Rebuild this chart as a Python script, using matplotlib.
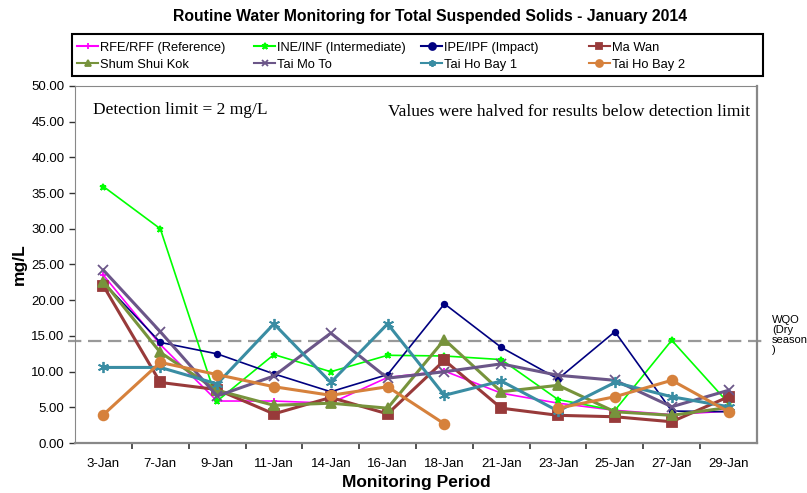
import matplotlib as mpl
mpl.use('Agg')
import matplotlib.pyplot as plt
from matplotlib.patches import Rectangle
import numpy as np

# sampling dates
dates = ['3-Jan', '7-Jan', '9-Jan', '11-Jan', '14-Jan', '16-Jan',
         '18-Jan', '21-Jan', '23-Jan', '25-Jan', '27-Jan', '29-Jan']

# total suspended solids, mg/L (nan = no sample)
rfe = [23.5, 13.8, 5.9, 5.9, 5.6, 9.2, 10.1, 7.0, 5.6, 4.6, 4.0, 4.5]
ine = [35.9, 30.0, 5.9, 12.4, 10.0, 12.3, 12.2, 11.7, 6.1, 4.6, 14.4, 5.6]
ipe = [22.5, 14.1, 12.5, 9.7, 7.2, 9.6, 19.5, 13.4, 9.0, 15.6, 4.5, 4.4]
ma_wan = [22.0, 8.5, 7.5, 4.1, 6.4, 4.1, 11.6, 4.9, 3.9, 3.7, 3.0, 6.5]
shum_shui_kok = [22.6, 12.7, 7.4, 5.3, 5.6, 4.9, 14.5, 7.2, 8.1, 4.4, 3.9, 5.0]
tai_mo_to = [24.2, 15.6, 6.6, 9.4, 15.4, 9.1, 10.0, 11.1, 9.5, 8.8, 5.1, 7.4]
tai_ho_bay_1 = [10.6, 10.6, 8.3, 16.7, 8.5, 16.7, 6.7, 8.7, 4.5, 8.5, 6.5, 5.1]
tai_ho_bay_2 = [4.0, 11.3, 9.6, 7.9, 6.7, 7.9, 2.7, np.nan, 4.9, 6.5, 8.8, 4.4]

wqo = 14.3

series = [
    ('RFE/RFF (Reference)', rfe, '#FF00FF', '+', 5, 1.2),
    ('INE/INF (Intermediate)', ine, '#00FF00', '*', 5, 1.2),
    ('IPE/IPF (Impact)', ipe, '#000080', 'o', 4, 1.2),
    ('Ma Wan', ma_wan, '#983A3A', 's', 7, 2.2),
    ('Shum Shui Kok', shum_shui_kok, '#77933C', '^', 7, 2.2),
    ('Tai Mo To', tai_mo_to, '#6B5688', 'x', 7, 2.2),
    ('Tai Ho Bay 1', tai_ho_bay_1, '#3A8DA3', (6, 2, 0), 8, 2.2),
    ('Tai Ho Bay 2', tai_ho_bay_2, '#D6813C', 'o', 7, 2.2),
]

plt.rcParams['font.family'] = ['Liberation Sans', 'DejaVu Sans']
fig = plt.figure(figsize=(8.07, 4.93), dpi=100)
ax = fig.add_axes([0.093, 0.101, 0.845, 0.725])

x = np.arange(len(dates))
handles = []
for name, vals, col, mk, ms, lw in series:
    h, = ax.plot(x, vals, color=col, marker=mk, markersize=ms, linewidth=lw,
                 markeredgewidth=1.3, label=name)
    handles.append(h)

# water quality objective line, runs slightly past the frame
ax.axhline(wqo, xmin=-0.01, xmax=1.01, color='#999999', linestyle=(0, (6, 3)),
           linewidth=1.6, clip_on=False, zorder=0)
ax.text(1.022, 17.9 / 50, 'WQO\n(Dry\nseason\n)', transform=ax.transAxes,
        fontsize=8, va='top', ha='left', linespacing=1.0)

ax.set_xlim(-0.5, len(dates) - 0.5)
ax.set_ylim(0, 50)
ax.set_yticks(np.arange(0, 50.1, 5))
ax.set_yticklabels(['%.2f' % v for v in np.arange(0, 50.1, 5)], fontsize=9.5)
ax.set_xticks(x)
ax.set_xticklabels(dates, fontsize=9.5)
ax.set_xticks(np.arange(0.5, len(dates) - 0.5, 1), minor=True)
ax.tick_params(axis='x', which='major', length=0, pad=11)
ax.tick_params(axis='x', which='minor', length=4, width=1.2, color='#333333')
ax.tick_params(axis='y', length=4, width=1, color='#333333')
for s in ax.spines.values():
    s.set_color('#888888')
ax.spines['right'].set_linewidth(1.6)
ax.spines['bottom'].set_linewidth(1.6)

ax.set_ylabel('mg/L', fontsize=12.5, fontweight='bold', labelpad=3)
ax.set_xlabel('Monitoring Period', fontsize=12.5, fontweight='bold', labelpad=3)

ax.text(0.026, 0.955, 'Detection limit = 2 mg/L', transform=ax.transAxes,
        fontsize=12.5, family=['Liberation Serif', 'DejaVu Serif'], va='top')
ax.text(0.99, 0.95, 'Values were halved for results below detection limit',
        transform=ax.transAxes, fontsize=12.5, ha='right', va='top',
        family=['Liberation Serif', 'DejaVu Serif'])

fig.text(0.533, 0.967, 'Routine Water Monitoring for Total Suspended Solids - January 2014',
         ha='center', va='center', fontsize=11.3, fontweight='bold')

# legend box with four columns at the original's positions
fig.patches.append(Rectangle((0.089, 0.846), 0.857, 0.085, transform=fig.transFigure,
                             fill=False, edgecolor='black', linewidth=1.5))
col_x = [0.096, 0.315, 0.522, 0.730]
for c in range(4):
    hs = [handles[c], handles[c + 4]]
    lg = fig.legend(handles=hs, loc='center left', bbox_to_anchor=(col_x[c], 0.886),
                    fontsize=9.3, frameon=False, borderpad=0, borderaxespad=0,
                    handlelength=1.6, handletextpad=0.15, labelspacing=0.35)
    for lh in lg.get_lines():
        lh.set_markersize(5)
        lh.set_linewidth(1.5)

fig.savefig('out.png', dpi=100)
